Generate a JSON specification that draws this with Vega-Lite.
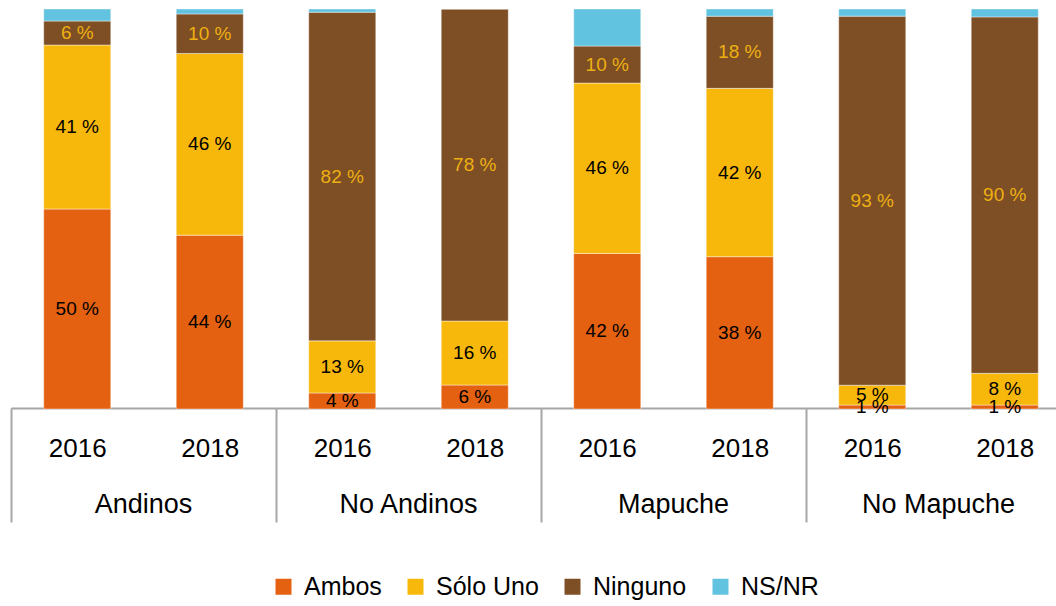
{
  "$schema": "https://vega.github.io/schema/vega-lite/v6.json",
  "padding": {"left": 10, "top": 8, "right": 0, "bottom": 0},
  "data": {"values": [
    {"grupo": "Andinos", "anio": "2016", "cat": "Ambos", "orden": 1, "v": 0.50},
    {"grupo": "Andinos", "anio": "2016", "cat": "Sólo Uno", "orden": 2, "v": 0.41},
    {"grupo": "Andinos", "anio": "2016", "cat": "Ninguno", "orden": 3, "v": 0.06},
    {"grupo": "Andinos", "anio": "2016", "cat": "NS/NR", "orden": 4, "v": 0.03},
    {"grupo": "Andinos", "anio": "2018", "cat": "Ambos", "orden": 1, "v": 0.44},
    {"grupo": "Andinos", "anio": "2018", "cat": "Sólo Uno", "orden": 2, "v": 0.46},
    {"grupo": "Andinos", "anio": "2018", "cat": "Ninguno", "orden": 3, "v": 0.10},
    {"grupo": "Andinos", "anio": "2018", "cat": "NS/NR", "orden": 4, "v": 0.0125},
    {"grupo": "No Andinos", "anio": "2016", "cat": "Ambos", "orden": 1, "v": 0.04},
    {"grupo": "No Andinos", "anio": "2016", "cat": "Sólo Uno", "orden": 2, "v": 0.13},
    {"grupo": "No Andinos", "anio": "2016", "cat": "Ninguno", "orden": 3, "v": 0.82},
    {"grupo": "No Andinos", "anio": "2016", "cat": "NS/NR", "orden": 4, "v": 0.008},
    {"grupo": "No Andinos", "anio": "2018", "cat": "Ambos", "orden": 1, "v": 0.06},
    {"grupo": "No Andinos", "anio": "2018", "cat": "Sólo Uno", "orden": 2, "v": 0.16},
    {"grupo": "No Andinos", "anio": "2018", "cat": "Ninguno", "orden": 3, "v": 0.78},
    {"grupo": "No Andinos", "anio": "2018", "cat": "NS/NR", "orden": 4, "v": 0.0},
    {"grupo": "Mapuche", "anio": "2016", "cat": "Ambos", "orden": 1, "v": 0.42},
    {"grupo": "Mapuche", "anio": "2016", "cat": "Sólo Uno", "orden": 2, "v": 0.46},
    {"grupo": "Mapuche", "anio": "2016", "cat": "Ninguno", "orden": 3, "v": 0.10},
    {"grupo": "Mapuche", "anio": "2016", "cat": "NS/NR", "orden": 4, "v": 0.10},
    {"grupo": "Mapuche", "anio": "2018", "cat": "Ambos", "orden": 1, "v": 0.38},
    {"grupo": "Mapuche", "anio": "2018", "cat": "Sólo Uno", "orden": 2, "v": 0.42},
    {"grupo": "Mapuche", "anio": "2018", "cat": "Ninguno", "orden": 3, "v": 0.18},
    {"grupo": "Mapuche", "anio": "2018", "cat": "NS/NR", "orden": 4, "v": 0.018},
    {"grupo": "No Mapuche", "anio": "2016", "cat": "Ambos", "orden": 1, "v": 0.01},
    {"grupo": "No Mapuche", "anio": "2016", "cat": "Sólo Uno", "orden": 2, "v": 0.05},
    {"grupo": "No Mapuche", "anio": "2016", "cat": "Ninguno", "orden": 3, "v": 0.93},
    {"grupo": "No Mapuche", "anio": "2016", "cat": "NS/NR", "orden": 4, "v": 0.018},
    {"grupo": "No Mapuche", "anio": "2018", "cat": "Ambos", "orden": 1, "v": 0.01},
    {"grupo": "No Mapuche", "anio": "2018", "cat": "Sólo Uno", "orden": 2, "v": 0.08},
    {"grupo": "No Mapuche", "anio": "2018", "cat": "Ninguno", "orden": 3, "v": 0.90},
    {"grupo": "No Mapuche", "anio": "2018", "cat": "NS/NR", "orden": 4, "v": 0.02}
  ]},
  "facet": {
    "column": {
      "field": "grupo", "type": "nominal",
      "sort": ["Andinos", "No Andinos", "Mapuche", "No Mapuche"],
      "title": null,
      "header": {"labelOrient": "bottom", "labelFontSize": 27, "labelFont": "Liberation Sans", "labelColor": "black", "labelPadding": -31}
    }
  },
  "spacing": 0,
  "spec": {
    "width": 265,
    "height": 400,
    "encoding": {
      "x": {
        "field": "anio", "type": "nominal", "title": null,
        "scale": {"paddingInner": 0.494, "paddingOuter": 0.247},
        "axis": {
          "labelAngle": 0, "labelFontSize": 26, "labelFont": "Liberation Sans", "labelColor": "black",
          "domainColor": "#A6A6A6", "domainWidth": 2, "offset": -10,
          "tickSize": 114, "tickWidth": 2, "tickOffset": -66.25, "labelOffset": 66.25,
          "tickColor": {"condition": {"test": "datum.value == '2016'", "value": "#A6A6A6"}, "value": "transparent"},
          "labelPadding": -87
        }
      },
      "y": {"field": "v", "type": "quantitative", "stack": "normalize", "axis": null, "scale": {"domain": [0, 1], "nice": false}},
      "order": {"field": "orden", "type": "quantitative", "sort": "ascending"}
    },
    "layer": [
      {
        "mark": {"type": "bar", "stroke": "#FFFFFF", "strokeWidth": 0.6, "strokeOpacity": 0.7},
        "encoding": {
          "color": {
            "field": "cat", "type": "nominal",
            "sort": ["Ambos", "Sólo Uno", "Ninguno", "NS/NR"],
            "scale": {"domain": ["Ambos", "Sólo Uno", "Ninguno", "NS/NR"], "range": ["#E36110", "#F8B80B", "#7E4E25", "#62C3E0"]},
            "legend": {
              "orient": "none", "legendX": 260, "legendY": 565, "direction": "horizontal", "title": null,
              "symbolType": "square", "symbolSize": 256, "symbolStrokeWidth": 0,
              "labelFontSize": 25, "labelFont": "Liberation Sans", "labelColor": "black",
              "columnPadding": 21, "labelOffset": 8
            }
          }
        }
      },
      {
        "mark": {"type": "text", "font": "Liberation Sans", "baseline": "middle"},
        "encoding": {
          "y": {"field": "v", "type": "quantitative", "stack": "normalize", "bandPosition": 0.5},
          "color": {"condition": {"test": "datum.cat === 'Ninguno'", "value": "#EDB012"}, "value": "#000000"},
          "size": {"condition": {"test": "datum.cat === 'NS/NR'", "value": 0}, "value": 19},
          "text": {
            "condition": {"test": "datum.cat === 'NS/NR'", "value": ""},
            "field": "v", "type": "quantitative", "format": ".0%"
          }
        }
      }
    ]
  },
  "config": {
    "view": {"stroke": null},
    "locale": {"number": {"decimal": ".", "thousands": ",", "grouping": [3], "currency": ["$", ""], "percent": " %"}}
  }
}
